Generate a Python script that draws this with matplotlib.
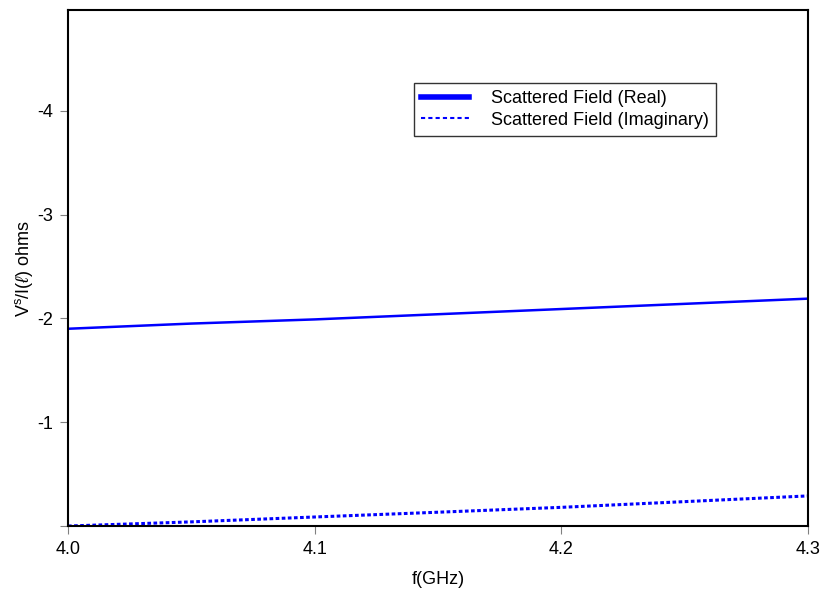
import matplotlib
matplotlib.use("Agg")
import matplotlib.pyplot as plt

plt.rcParams['font.family'] = ['Liberation Sans', 'DejaVu Sans']
plt.rcParams['mathtext.fontset'] = 'custom'
plt.rcParams['mathtext.rm'] = 'Liberation Sans'
plt.rcParams['mathtext.it'] = 'Liberation Sans:italic'

freq = [4.0, 4.05, 4.1, 4.15, 4.2, 4.25, 4.3]
real_part = [-1.90, -1.95, -1.99, -2.04, -2.09, -2.14, -2.19]
imag_part = [0.0, -0.04, -0.087, -0.133, -0.18, -0.235, -0.29]

xticks = [4.0, 4.1, 4.2, 4.3]
yticks = [0, -1, -2, -3, -4]
yticklabels = ['', '-1', '-2', '-3', '-4']

fig = plt.figure(figsize=(8.25, 5.96), dpi=100)
ax = fig.add_axes([0.0824, 0.1174, 0.8970, 0.8658])

ax.plot(freq, real_part, color='#0000ff', lw=1.8, label='Scattered Field (Real)')
ax.plot(freq, imag_part, color='#0000ff', lw=2.2, dashes=(1.2, 0.8),
        label='Scattered Field (Imaginary)')

ax.set_xlim(4.0, 4.3)
ax.set_ylim(0, -4.97)
ax.set_xticks(xticks)
ax.set_xticklabels([f"{t:.1f}" for t in xticks])
ax.set_yticks(yticks)
ax.set_yticklabels(yticklabels)
ax.tick_params(direction='out', length=6, color='#808080', labelsize=13, pad=5)
for s in ax.spines.values():
    s.set_linewidth(1.5)

ax.set_xlabel('f(GHz)', fontsize=13)
ax.set_ylabel(r'V$^{\mathrm{s}}$/I($\ell$) ohms', fontsize=13)
ax.xaxis.set_label_coords(0.5, -0.087)
ax.yaxis.set_label_coords(-0.045, 0.5)

leg = ax.legend(loc='upper right', bbox_to_anchor=(0.876, 0.859), fancybox=False,
                edgecolor='black', fontsize=13, handlelength=2.7, borderpad=0.4,
                labelspacing=0.25, borderaxespad=0, handletextpad=1.2)
leg.get_frame().set_linewidth(1.0)
leg.legend_handles[0].set_linewidth(4)
leg.legend_handles[1].set_linewidth(1.5)
leg.legend_handles[1].set_dashes((2, 1.5))

fig.savefig('out.png', dpi=100)
